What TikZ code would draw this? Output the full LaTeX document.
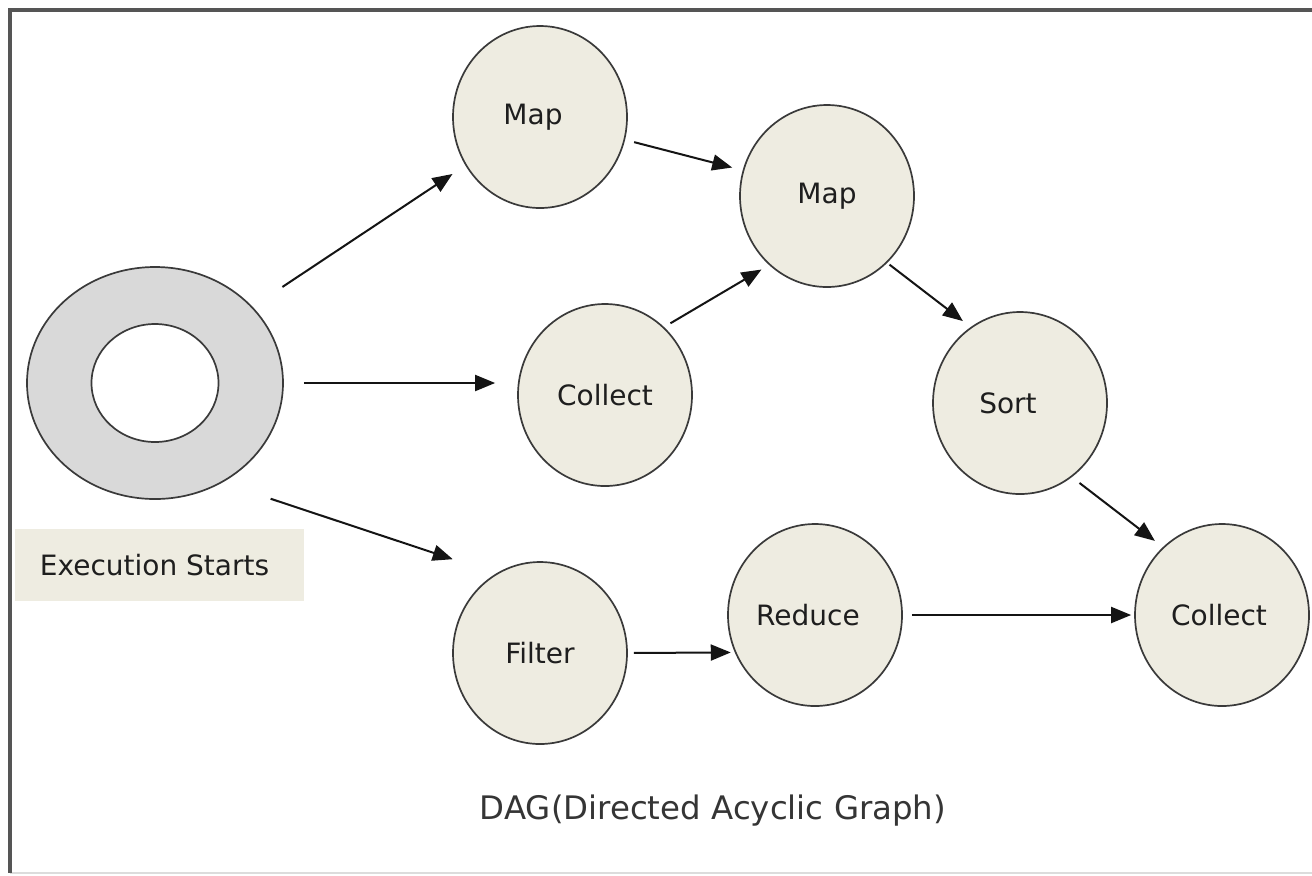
\documentclass[tikz,border=0pt]{standalone}
\usepackage{fontspec}
\setmainfont{DejaVu Sans}
\usetikzlibrary{shapes.geometric,arrows.meta}
\definecolor{nodefill}{HTML}{EEECE1}
\definecolor{ringfill}{HTML}{D9D9D9}
\definecolor{edgecol}{HTML}{3A3A3A}
\definecolor{txtcol}{HTML}{1E1E1E}
\definecolor{framecol}{HTML}{555555}
\definecolor{framelight}{HTML}{DCDCDC}
\tikzset{
  opnode/.style={ellipse, draw=edgecol, line width=0.85pt, fill=nodefill,
    minimum width=87pt, minimum height=91pt, inner sep=0pt, text=txtcol,
    font=\fontsize{14}{16}\selectfont},
  arr/.style={draw=black!92, line width=1pt, -{Triangle[length=10pt,width=8pt]}},
}
\begin{document}
\begin{tikzpicture}[x=0.5pt,y=-0.5pt]
\useasboundingbox (0,0) rectangle (1312,875);
\fill[white] (0,0) rectangle (1312,875);
% frame
\draw[framelight, line width=1pt] (10,873) -- (1312,873);
\draw[framecol, line width=1.6pt] (1312,10) -- (10,10) -- (10,873);

% start ring
\node[ellipse, draw=edgecol, line width=0.85pt, fill=ringfill, minimum width=128pt, minimum height=116pt, inner sep=0pt] (ring) at (155,383) {};
\node[ellipse, draw=edgecol, line width=0.85pt, fill=white, minimum width=63.5pt, minimum height=59pt, inner sep=0pt] (ringin) at (155,383) {};
\node[rectangle, fill=nodefill, minimum width=144.5pt, minimum height=36pt, inner sep=0pt, text=txtcol, font=\fontsize{14}{16}\selectfont] (start) at (159.5,565) {Execution Starts\hspace*{5pt}};

% operation nodes
\node[opnode] (m1) at (540,117) {Map\hspace*{7pt}};
\node[opnode] (m2) at (827,196) {Map};
\node[opnode] (c1) at (605,395) {Collect};
\node[opnode] (sort) at (1020,403) {Sort\hspace*{12pt}};
\node[opnode] (filter) at (540,653) {Filter};
\node[opnode] (reduce) at (815,615) {Reduce\hspace*{7pt}};
\node[opnode] (c2) at (1222,615) {Collect\hspace*{3pt}};

% title
\node[text=txtcol!90!white, font=\fontsize{16.2}{19}\selectfont] (title) at (713,811) {DAG(Directed Acyclic Graph)};

% connectors
\draw[arr, shorten <=17.9pt, shorten >=7.7pt] (ring.38.1) -- (m1.-147.4);
\draw[arr, shorten <=10pt, shorten >=11pt] (ring.east) -- (ring.east -| c1.west);
\draw[arr, shorten <=25.5pt, shorten >=22.75pt] (ring.-56.3) -- (filter.119.1);
\draw[arr, shorten <=4.65pt, shorten >=5.4pt] (m1.-15.8) -- (m2.163.1);
\draw[arr, shorten <=3.7pt, shorten >=4.4pt] (c1.49.8) -- (m2.-130.9);
\draw[arr, shorten <=1.45pt, shorten >=4.9pt] (m2.-48) -- (sort.123.3);
\draw[arr, shorten <=4.8pt, shorten >=5.05pt] (sort.-55.8) -- (c2.131.4);
\draw[arr, shorten <=3pt, shorten >=2pt] (filter.east) -- (reduce.205.7);
\draw[arr, shorten <=4.5pt, shorten >=1.5pt] (reduce.east) -- (c2.west);
\end{tikzpicture}
\end{document}
